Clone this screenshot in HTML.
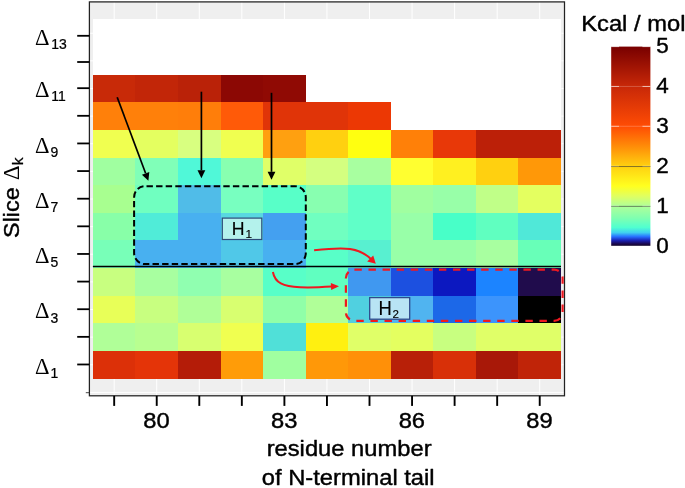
<!DOCTYPE html>
<html><head><meta charset="utf-8"><title>Free energy heatmap</title>
<style>
html,body{margin:0;padding:0;background:#fff;}
body{width:685px;height:488px;overflow:hidden;}
svg{display:block;}
text{font-family:"Liberation Sans",Arial,Helvetica,sans-serif;fill:#000;stroke:#000;stroke-width:0.4px;stroke-linejoin:round;}
.d{font-family:"Liberation Serif","DejaVu Serif",serif;stroke:none;}
.s{stroke-width:0.25px;}
.h{stroke-width:0.15px;}
</style></head><body>
<svg width="685" height="488" viewBox="0 0 685 488">
<defs>
<linearGradient id="cb" x1="0" y1="1" x2="0" y2="0">
<stop offset="0" stop-color="#120528"/>
<stop offset="0.01" stop-color="#1a0850"/>
<stop offset="0.026" stop-color="#1a20b0"/>
<stop offset="0.046" stop-color="#2870ff"/>
<stop offset="0.066" stop-color="#40d0f0"/>
<stop offset="0.092" stop-color="#50ffd0"/>
<stop offset="0.14" stop-color="#80ffb0"/>
<stop offset="0.2" stop-color="#b0ff98"/>
<stop offset="0.25" stop-color="#e0ff60"/>
<stop offset="0.3" stop-color="#ffff20"/>
<stop offset="0.4" stop-color="#ffd010"/>
<stop offset="0.5" stop-color="#ff8c08"/>
<stop offset="0.6" stop-color="#ff4c04"/>
<stop offset="0.8" stop-color="#c82808"/>
<stop offset="1" stop-color="#780000"/>
</linearGradient>
</defs>
<rect x="0" y="0" width="685" height="488" fill="#fff"/>
<rect x="89.4" y="1.9" width="475.1" height="393.9" fill="#efefef"/>
<line x1="114.18" y1="2" x2="114.18" y2="395.8" stroke="#fff" stroke-width="1"/>
<line x1="156.73" y1="2" x2="156.73" y2="395.8" stroke="#fff" stroke-width="1"/>
<line x1="199.29" y1="2" x2="199.29" y2="395.8" stroke="#fff" stroke-width="1"/>
<line x1="241.84" y1="2" x2="241.84" y2="395.8" stroke="#fff" stroke-width="1"/>
<line x1="284.40" y1="2" x2="284.40" y2="395.8" stroke="#fff" stroke-width="1"/>
<line x1="326.95" y1="2" x2="326.95" y2="395.8" stroke="#fff" stroke-width="1"/>
<line x1="369.50" y1="2" x2="369.50" y2="395.8" stroke="#fff" stroke-width="1"/>
<line x1="412.06" y1="2" x2="412.06" y2="395.8" stroke="#fff" stroke-width="1"/>
<line x1="454.61" y1="2" x2="454.61" y2="395.8" stroke="#fff" stroke-width="1"/>
<line x1="497.17" y1="2" x2="497.17" y2="395.8" stroke="#fff" stroke-width="1"/>
<line x1="539.72" y1="2" x2="539.72" y2="395.8" stroke="#fff" stroke-width="1"/>
<line x1="90" y1="392.42" x2="564.5" y2="392.42" stroke="#fff" stroke-width="1"/>
<line x1="90" y1="364.78" x2="564.5" y2="364.78" stroke="#fff" stroke-width="1"/>
<line x1="90" y1="337.15" x2="564.5" y2="337.15" stroke="#fff" stroke-width="1"/>
<line x1="90" y1="309.52" x2="564.5" y2="309.52" stroke="#fff" stroke-width="1"/>
<line x1="90" y1="281.89" x2="564.5" y2="281.89" stroke="#fff" stroke-width="1"/>
<line x1="90" y1="254.26" x2="564.5" y2="254.26" stroke="#fff" stroke-width="1"/>
<line x1="90" y1="226.63" x2="564.5" y2="226.63" stroke="#fff" stroke-width="1"/>
<line x1="90" y1="199.00" x2="564.5" y2="199.00" stroke="#fff" stroke-width="1"/>
<line x1="90" y1="171.37" x2="564.5" y2="171.37" stroke="#fff" stroke-width="1"/>
<line x1="90" y1="143.74" x2="564.5" y2="143.74" stroke="#fff" stroke-width="1"/>
<line x1="90" y1="116.11" x2="564.5" y2="116.11" stroke="#fff" stroke-width="1"/>
<line x1="90" y1="88.48" x2="564.5" y2="88.48" stroke="#fff" stroke-width="1"/>
<line x1="90" y1="60.85" x2="564.5" y2="60.85" stroke="#fff" stroke-width="1"/>
<line x1="90" y1="33.22" x2="564.5" y2="33.22" stroke="#fff" stroke-width="1"/>
<g shape-rendering="crispEdges">
<rect x="92.90" y="19.40" width="42.85" height="27.93" fill="#ffffff"/>
<rect x="135.45" y="19.40" width="42.85" height="27.93" fill="#ffffff"/>
<rect x="178.01" y="19.40" width="42.85" height="27.93" fill="#ffffff"/>
<rect x="220.56" y="19.40" width="42.85" height="27.93" fill="#ffffff"/>
<rect x="263.12" y="19.40" width="42.85" height="27.93" fill="#ffffff"/>
<rect x="305.67" y="19.40" width="42.85" height="27.93" fill="#ffffff"/>
<rect x="348.23" y="19.40" width="42.85" height="27.93" fill="#ffffff"/>
<rect x="390.78" y="19.40" width="42.85" height="27.93" fill="#ffffff"/>
<rect x="433.34" y="19.40" width="42.85" height="27.93" fill="#ffffff"/>
<rect x="475.89" y="19.40" width="42.85" height="27.93" fill="#ffffff"/>
<rect x="518.45" y="19.40" width="42.85" height="27.93" fill="#ffffff"/>
<rect x="92.90" y="47.03" width="42.85" height="27.93" fill="#ffffff"/>
<rect x="135.45" y="47.03" width="42.85" height="27.93" fill="#ffffff"/>
<rect x="178.01" y="47.03" width="42.85" height="27.93" fill="#ffffff"/>
<rect x="220.56" y="47.03" width="42.85" height="27.93" fill="#ffffff"/>
<rect x="263.12" y="47.03" width="42.85" height="27.93" fill="#ffffff"/>
<rect x="305.67" y="47.03" width="42.85" height="27.93" fill="#ffffff"/>
<rect x="348.23" y="47.03" width="42.85" height="27.93" fill="#ffffff"/>
<rect x="390.78" y="47.03" width="42.85" height="27.93" fill="#ffffff"/>
<rect x="433.34" y="47.03" width="42.85" height="27.93" fill="#ffffff"/>
<rect x="475.89" y="47.03" width="42.85" height="27.93" fill="#ffffff"/>
<rect x="518.45" y="47.03" width="42.85" height="27.93" fill="#ffffff"/>
<rect x="92.90" y="74.66" width="42.85" height="27.93" fill="#c82a08"/>
<rect x="135.45" y="74.66" width="42.85" height="27.93" fill="#c22608"/>
<rect x="178.01" y="74.66" width="42.85" height="27.93" fill="#ba2208"/>
<rect x="220.56" y="74.66" width="42.85" height="27.93" fill="#8c0804"/>
<rect x="263.12" y="74.66" width="42.85" height="27.93" fill="#900a04"/>
<rect x="305.67" y="74.66" width="42.85" height="27.93" fill="#ffffff"/>
<rect x="348.23" y="74.66" width="42.85" height="27.93" fill="#ffffff"/>
<rect x="390.78" y="74.66" width="42.85" height="27.93" fill="#ffffff"/>
<rect x="433.34" y="74.66" width="42.85" height="27.93" fill="#ffffff"/>
<rect x="475.89" y="74.66" width="42.85" height="27.93" fill="#ffffff"/>
<rect x="518.45" y="74.66" width="42.85" height="27.93" fill="#ffffff"/>
<rect x="92.90" y="102.29" width="42.85" height="27.93" fill="#ff800a"/>
<rect x="135.45" y="102.29" width="42.85" height="27.93" fill="#ff800a"/>
<rect x="178.01" y="102.29" width="42.85" height="27.93" fill="#ff7e0a"/>
<rect x="220.56" y="102.29" width="42.85" height="27.93" fill="#ff5a08"/>
<rect x="263.12" y="102.29" width="42.85" height="27.93" fill="#e03408"/>
<rect x="305.67" y="102.29" width="42.85" height="27.93" fill="#e03408"/>
<rect x="348.23" y="102.29" width="42.85" height="27.93" fill="#ec3804"/>
<rect x="390.78" y="102.29" width="42.85" height="27.93" fill="#ffffff"/>
<rect x="433.34" y="102.29" width="42.85" height="27.93" fill="#ffffff"/>
<rect x="475.89" y="102.29" width="42.85" height="27.93" fill="#ffffff"/>
<rect x="518.45" y="102.29" width="42.85" height="27.93" fill="#ffffff"/>
<rect x="92.90" y="129.92" width="42.85" height="27.93" fill="#f0ff50"/>
<rect x="135.45" y="129.92" width="42.85" height="27.93" fill="#e4ff60"/>
<rect x="178.01" y="129.92" width="42.85" height="27.93" fill="#d8ff80"/>
<rect x="220.56" y="129.92" width="42.85" height="27.93" fill="#f0ff50"/>
<rect x="263.12" y="129.92" width="42.85" height="27.93" fill="#ffa010"/>
<rect x="305.67" y="129.92" width="42.85" height="27.93" fill="#ffd010"/>
<rect x="348.23" y="129.92" width="42.85" height="27.93" fill="#ffff10"/>
<rect x="390.78" y="129.92" width="42.85" height="27.93" fill="#ff8008"/>
<rect x="433.34" y="129.92" width="42.85" height="27.93" fill="#e83808"/>
<rect x="475.89" y="129.92" width="42.85" height="27.93" fill="#bc2008"/>
<rect x="518.45" y="129.92" width="42.85" height="27.93" fill="#bc2008"/>
<rect x="92.90" y="157.55" width="42.85" height="27.93" fill="#a0ffa0"/>
<rect x="135.45" y="157.55" width="42.85" height="27.93" fill="#80ffb8"/>
<rect x="178.01" y="157.55" width="42.85" height="27.93" fill="#50f8d8"/>
<rect x="220.56" y="157.55" width="42.85" height="27.93" fill="#88ffb0"/>
<rect x="263.12" y="157.55" width="42.85" height="27.93" fill="#e0ff68"/>
<rect x="305.67" y="157.55" width="42.85" height="27.93" fill="#d4ff80"/>
<rect x="348.23" y="157.55" width="42.85" height="27.93" fill="#a8ffa0"/>
<rect x="390.78" y="157.55" width="42.85" height="27.93" fill="#ffff30"/>
<rect x="433.34" y="157.55" width="42.85" height="27.93" fill="#fff020"/>
<rect x="475.89" y="157.55" width="42.85" height="27.93" fill="#ffd010"/>
<rect x="518.45" y="157.55" width="42.85" height="27.93" fill="#ff9808"/>
<rect x="92.90" y="185.18" width="42.85" height="27.93" fill="#a8ff90"/>
<rect x="135.45" y="185.18" width="42.85" height="27.93" fill="#70ffc0"/>
<rect x="178.01" y="185.18" width="42.85" height="27.93" fill="#50bce8"/>
<rect x="220.56" y="185.18" width="42.85" height="27.93" fill="#78ffc0"/>
<rect x="263.12" y="185.18" width="42.85" height="27.93" fill="#58ffc8"/>
<rect x="305.67" y="185.18" width="42.85" height="27.93" fill="#88ffb0"/>
<rect x="348.23" y="185.18" width="42.85" height="27.93" fill="#60ffc8"/>
<rect x="390.78" y="185.18" width="42.85" height="27.93" fill="#a0ffa0"/>
<rect x="433.34" y="185.18" width="42.85" height="27.93" fill="#98ffa8"/>
<rect x="475.89" y="185.18" width="42.85" height="27.93" fill="#c0ff88"/>
<rect x="518.45" y="185.18" width="42.85" height="27.93" fill="#e4ff60"/>
<rect x="92.90" y="212.82" width="42.85" height="27.93" fill="#88ffa8"/>
<rect x="135.45" y="212.82" width="42.85" height="27.93" fill="#50ecd8"/>
<rect x="178.01" y="212.82" width="42.85" height="27.93" fill="#48b0f0"/>
<rect x="220.56" y="212.82" width="42.85" height="27.93" fill="#58d8e0"/>
<rect x="263.12" y="212.82" width="42.85" height="27.93" fill="#44a0f0"/>
<rect x="305.67" y="212.82" width="42.85" height="27.93" fill="#70ffc0"/>
<rect x="348.23" y="212.82" width="42.85" height="27.93" fill="#60ffc8"/>
<rect x="390.78" y="212.82" width="42.85" height="27.93" fill="#98ffa8"/>
<rect x="433.34" y="212.82" width="42.85" height="27.93" fill="#48ffc8"/>
<rect x="475.89" y="212.82" width="42.85" height="27.93" fill="#60ffc0"/>
<rect x="518.45" y="212.82" width="42.85" height="27.93" fill="#50e8d8"/>
<rect x="92.90" y="240.45" width="42.85" height="27.93" fill="#78ffb8"/>
<rect x="135.45" y="240.45" width="42.85" height="27.93" fill="#48b0f0"/>
<rect x="178.01" y="240.45" width="42.85" height="27.93" fill="#48b0f0"/>
<rect x="220.56" y="240.45" width="42.85" height="27.93" fill="#50c8e8"/>
<rect x="263.12" y="240.45" width="42.85" height="27.93" fill="#48b0f0"/>
<rect x="305.67" y="240.45" width="42.85" height="27.93" fill="#58ffc8"/>
<rect x="348.23" y="240.45" width="42.85" height="27.93" fill="#58f0d0"/>
<rect x="390.78" y="240.45" width="42.85" height="27.93" fill="#98ffa8"/>
<rect x="433.34" y="240.45" width="42.85" height="27.93" fill="#98ffa8"/>
<rect x="475.89" y="240.45" width="42.85" height="27.93" fill="#a8ffa0"/>
<rect x="518.45" y="240.45" width="42.85" height="27.93" fill="#68ffb8"/>
<rect x="92.90" y="268.08" width="42.85" height="27.93" fill="#c8ff80"/>
<rect x="135.45" y="268.08" width="42.85" height="27.93" fill="#a8ffa0"/>
<rect x="178.01" y="268.08" width="42.85" height="27.93" fill="#90ffb0"/>
<rect x="220.56" y="268.08" width="42.85" height="27.93" fill="#a8ffa0"/>
<rect x="263.12" y="268.08" width="42.85" height="27.93" fill="#58ffc8"/>
<rect x="305.67" y="268.08" width="42.85" height="27.93" fill="#60ffc0"/>
<rect x="348.23" y="268.08" width="42.85" height="27.93" fill="#4098f0"/>
<rect x="390.78" y="268.08" width="42.85" height="27.93" fill="#1c50e0"/>
<rect x="433.34" y="268.08" width="42.85" height="27.93" fill="#0c18c0"/>
<rect x="475.89" y="268.08" width="42.85" height="27.93" fill="#1c84ff"/>
<rect x="518.45" y="268.08" width="42.85" height="27.93" fill="#200c4c"/>
<rect x="92.90" y="295.71" width="42.85" height="27.93" fill="#e8ff58"/>
<rect x="135.45" y="295.71" width="42.85" height="27.93" fill="#c8ff80"/>
<rect x="178.01" y="295.71" width="42.85" height="27.93" fill="#b0ff98"/>
<rect x="220.56" y="295.71" width="42.85" height="27.93" fill="#d8ff70"/>
<rect x="263.12" y="295.71" width="42.85" height="27.93" fill="#90ffa8"/>
<rect x="305.67" y="295.71" width="42.85" height="27.93" fill="#b0ff98"/>
<rect x="348.23" y="295.71" width="42.85" height="27.93" fill="#50d0e0"/>
<rect x="390.78" y="295.71" width="42.85" height="27.93" fill="#50b4f0"/>
<rect x="433.34" y="295.71" width="42.85" height="27.93" fill="#1c68e8"/>
<rect x="475.89" y="295.71" width="42.85" height="27.93" fill="#3c94fc"/>
<rect x="518.45" y="295.71" width="42.85" height="27.93" fill="#000000"/>
<rect x="92.90" y="323.34" width="42.85" height="27.93" fill="#b0ff98"/>
<rect x="135.45" y="323.34" width="42.85" height="27.93" fill="#b8ff90"/>
<rect x="178.01" y="323.34" width="42.85" height="27.93" fill="#d8ff70"/>
<rect x="220.56" y="323.34" width="42.85" height="27.93" fill="#f0ff50"/>
<rect x="263.12" y="323.34" width="42.85" height="27.93" fill="#50e0d8"/>
<rect x="305.67" y="323.34" width="42.85" height="27.93" fill="#fff010"/>
<rect x="348.23" y="323.34" width="42.85" height="27.93" fill="#e0ff68"/>
<rect x="390.78" y="323.34" width="42.85" height="27.93" fill="#e4ff60"/>
<rect x="433.34" y="323.34" width="42.85" height="27.93" fill="#c8ff80"/>
<rect x="475.89" y="323.34" width="42.85" height="27.93" fill="#e0ff68"/>
<rect x="518.45" y="323.34" width="42.85" height="27.93" fill="#e0ff68"/>
<rect x="92.90" y="350.97" width="42.85" height="27.93" fill="#dc3008"/>
<rect x="135.45" y="350.97" width="42.85" height="27.93" fill="#e43408"/>
<rect x="178.01" y="350.97" width="42.85" height="27.93" fill="#b41c08"/>
<rect x="220.56" y="350.97" width="42.85" height="27.93" fill="#ff9c08"/>
<rect x="263.12" y="350.97" width="42.85" height="27.93" fill="#a0ffa0"/>
<rect x="305.67" y="350.97" width="42.85" height="27.93" fill="#ff9808"/>
<rect x="348.23" y="350.97" width="42.85" height="27.93" fill="#ff9008"/>
<rect x="390.78" y="350.97" width="42.85" height="27.93" fill="#b82008"/>
<rect x="433.34" y="350.97" width="42.85" height="27.93" fill="#d83008"/>
<rect x="475.89" y="350.97" width="42.85" height="27.93" fill="#a81808"/>
<rect x="518.45" y="350.97" width="42.85" height="27.93" fill="#c02408"/>
</g>
<rect x="561.00" y="19.4" width="0.4" height="359.20" fill="#efefef"/>
<rect x="89.4" y="1.9" width="475.1" height="393.9" fill="none" stroke="#222" stroke-width="1.25"/>
<line x1="77.2" y1="364.48" x2="89.4" y2="364.48" stroke="#000" stroke-width="1.8"/>
<text transform="translate(34.9,373.68) scale(0.94,1)" font-size="24.0" class="d">Δ</text>
<text transform="translate(50.4,377.78) scale(0.97,1)" font-size="14.4" class="s">1</text>
<line x1="77.2" y1="336.85" x2="89.4" y2="336.85" stroke="#000" stroke-width="1.8"/>
<line x1="77.2" y1="309.22" x2="89.4" y2="309.22" stroke="#000" stroke-width="1.8"/>
<text transform="translate(34.9,318.42) scale(0.94,1)" font-size="24.0" class="d">Δ</text>
<text transform="translate(50.4,322.52) scale(0.97,1)" font-size="14.4" class="s">3</text>
<line x1="77.2" y1="281.59" x2="89.4" y2="281.59" stroke="#000" stroke-width="1.8"/>
<line x1="77.2" y1="253.96" x2="89.4" y2="253.96" stroke="#000" stroke-width="1.8"/>
<text transform="translate(34.9,263.16) scale(0.94,1)" font-size="24.0" class="d">Δ</text>
<text transform="translate(50.4,267.26) scale(0.97,1)" font-size="14.4" class="s">5</text>
<line x1="77.2" y1="226.33" x2="89.4" y2="226.33" stroke="#000" stroke-width="1.8"/>
<line x1="77.2" y1="198.70" x2="89.4" y2="198.70" stroke="#000" stroke-width="1.8"/>
<text transform="translate(34.9,207.90) scale(0.94,1)" font-size="24.0" class="d">Δ</text>
<text transform="translate(50.4,212.00) scale(0.97,1)" font-size="14.4" class="s">7</text>
<line x1="77.2" y1="171.07" x2="89.4" y2="171.07" stroke="#000" stroke-width="1.8"/>
<line x1="77.2" y1="143.44" x2="89.4" y2="143.44" stroke="#000" stroke-width="1.8"/>
<text transform="translate(34.9,152.64) scale(0.94,1)" font-size="24.0" class="d">Δ</text>
<text transform="translate(50.4,156.74) scale(0.97,1)" font-size="14.4" class="s">9</text>
<line x1="77.2" y1="115.81" x2="89.4" y2="115.81" stroke="#000" stroke-width="1.8"/>
<line x1="77.2" y1="88.18" x2="89.4" y2="88.18" stroke="#000" stroke-width="1.8"/>
<text transform="translate(34.9,97.38) scale(0.94,1)" font-size="24.0" class="d">Δ</text>
<text transform="translate(51.3,101.48) scale(0.97,1)" font-size="14.4" class="s">11</text>
<line x1="77.2" y1="62.00" x2="89.4" y2="62.00" stroke="#000" stroke-width="1.8"/>
<line x1="77.2" y1="35.80" x2="89.4" y2="35.80" stroke="#000" stroke-width="1.8"/>
<text transform="translate(34.9,44.60) scale(0.94,1)" font-size="24.0" class="d">Δ</text>
<text transform="translate(51.3,48.70) scale(0.97,1)" font-size="14.4" class="s">13</text>
<line x1="85.8" y1="392.7" x2="89.4" y2="392.7" stroke="#333" stroke-width="0.9"/>
<line x1="114.18" y1="395.8" x2="114.18" y2="405.9" stroke="#000" stroke-width="1.9"/>
<line x1="156.73" y1="395.8" x2="156.73" y2="405.9" stroke="#000" stroke-width="1.9"/>
<text transform="translate(156.53,428.00) scale(1.075,1)" font-size="22.1" text-anchor="middle">80</text>
<line x1="199.29" y1="395.8" x2="199.29" y2="405.9" stroke="#000" stroke-width="1.9"/>
<line x1="241.84" y1="395.8" x2="241.84" y2="405.9" stroke="#000" stroke-width="1.9"/>
<line x1="284.40" y1="395.8" x2="284.40" y2="405.9" stroke="#000" stroke-width="1.9"/>
<text transform="translate(284.20,428.00) scale(1.075,1)" font-size="22.1" text-anchor="middle">83</text>
<line x1="326.95" y1="395.8" x2="326.95" y2="405.9" stroke="#000" stroke-width="1.9"/>
<line x1="369.50" y1="395.8" x2="369.50" y2="405.9" stroke="#000" stroke-width="1.9"/>
<line x1="412.06" y1="395.8" x2="412.06" y2="405.9" stroke="#000" stroke-width="1.9"/>
<text transform="translate(411.86,428.00) scale(1.075,1)" font-size="22.1" text-anchor="middle">86</text>
<line x1="454.61" y1="395.8" x2="454.61" y2="405.9" stroke="#000" stroke-width="1.9"/>
<line x1="497.17" y1="395.8" x2="497.17" y2="405.9" stroke="#000" stroke-width="1.9"/>
<line x1="539.72" y1="395.8" x2="539.72" y2="405.9" stroke="#000" stroke-width="1.9"/>
<text transform="translate(539.52,428.00) scale(1.075,1)" font-size="22.1" text-anchor="middle">89</text>
<text transform="translate(349.10,456.20) scale(1.115,1)" font-size="21.3" text-anchor="middle">residue number</text>
<text transform="translate(348.20,485.10) scale(1.115,1)" font-size="21.3" text-anchor="middle">of N-terminal tail</text>
<g transform="translate(18.8,237.9) rotate(-90)"><text transform="scale(1.05,1)" font-size="22.2">Slice</text><text transform="translate(57.8,0.1) scale(0.98,1)" font-size="23" class="d">Δ</text><text transform="translate(72.6,4.3) scale(1.04,1)" font-size="15.1" class="s">k</text></g>
<line x1="92.9" y1="266.6" x2="561" y2="266.6" stroke="#000" stroke-width="1.5"/>
<rect x="134.1" y="186.2" width="171.7" height="77.9" rx="11" ry="11" fill="none" stroke="#000" stroke-width="2" stroke-dasharray="6.4 3.2" stroke-dashoffset="-1.4"/>
<rect x="345.9" y="269.6" width="216.7" height="51.2" rx="8.5" ry="8.5" fill="none" stroke="#ee1820" stroke-width="2.2" stroke-dasharray="7.4 6.687"/>
<rect x="222.3" y="218.1" width="39.5" height="21.4" fill="#b4f2ec" stroke="#2f4a78" stroke-width="1.2"/>
<text transform="translate(231.7,234.5) scale(0.95,1)" font-size="18.6" class="h">H</text>
<text x="245.4" y="238.0" font-size="11.8" class="h">1</text>
<rect x="369.7" y="297.6" width="40" height="21.6" fill="#b8e4f4" stroke="#2f4a8c" stroke-width="1.3"/>
<text transform="translate(378.5,314.8) scale(0.93,1)" font-size="19.8" class="h">H</text>
<text x="392.5" y="317.7" font-size="11.6" class="h">2</text>
<line x1="117.2" y1="97.2" x2="145.6" y2="173.3" stroke="#000" stroke-width="1.7"/><polygon points="148.4,180.8 141.9,174.7 149.3,171.9" fill="#000"/>
<line x1="201.4" y1="91.7" x2="201.4" y2="170.3" stroke="#000" stroke-width="1.7"/><polygon points="201.4,178.3 197.5,170.3 205.3,170.3" fill="#000"/>
<line x1="271.5" y1="92.8" x2="271.5" y2="171.8" stroke="#000" stroke-width="1.7"/><polygon points="271.5,179.8 267.6,171.8 275.4,171.8" fill="#000"/>
<path d="M314.1,250.2 C330,248.5 340,247.5 350,249 C360,250.5 367,255 371.5,259.5" fill="none" stroke="#ee1820" stroke-width="2"/>
<polygon points="375.8,263.8 367.2,261.6 373.2,255.4" fill="#ee1820"/>
<path d="M272.9,272 C275,283 283,286.5 300,287.3 C312,287.8 322,287.2 332,286.6" fill="none" stroke="#ee1820" stroke-width="2"/>
<polygon points="339,286.2 331.2,290 330.8,283" fill="#ee1820"/>
<text transform="translate(581.20,30.90) scale(1.115,1)" font-size="21.3" text-anchor="start">Kcal / mol</text>
<rect x="611.2" y="46.6" width="39.2" height="199.2" fill="url(#cb)"/>
<text transform="translate(656.30,253.40) scale(1.045,1)" font-size="21.5" text-anchor="start">0</text>
<line x1="611.2" y1="206.36" x2="650.4" y2="206.36" stroke="#333" stroke-opacity="0.85" stroke-width="0.7"/>
<line x1="611.2" y1="205.96" x2="619" y2="205.96" stroke="#fff" stroke-opacity="0.35" stroke-width="0.9"/>
<line x1="642.4" y1="205.96" x2="650.4" y2="205.96" stroke="#fff" stroke-opacity="0.35" stroke-width="0.9"/>
<text transform="translate(656.30,213.35) scale(1.045,1)" font-size="21.5" text-anchor="start">1</text>
<line x1="611.2" y1="166.52" x2="650.4" y2="166.52" stroke="#333" stroke-opacity="0.85" stroke-width="0.7"/>
<line x1="611.2" y1="166.12" x2="619" y2="166.12" stroke="#fff" stroke-opacity="0.35" stroke-width="0.9"/>
<line x1="642.4" y1="166.12" x2="650.4" y2="166.12" stroke="#fff" stroke-opacity="0.35" stroke-width="0.9"/>
<text transform="translate(656.30,173.30) scale(1.045,1)" font-size="21.5" text-anchor="start">2</text>
<line x1="611.2" y1="126.28" x2="619" y2="126.28" stroke="#fff" stroke-opacity="0.8" stroke-width="0.9"/>
<line x1="642.4" y1="126.28" x2="650.4" y2="126.28" stroke="#fff" stroke-opacity="0.8" stroke-width="0.9"/>
<line x1="619" y1="126.28" x2="642.4" y2="126.28" stroke="#fff" stroke-opacity="0.25" stroke-width="0.9"/>
<text transform="translate(656.30,133.25) scale(1.045,1)" font-size="21.5" text-anchor="start">3</text>
<line x1="611.2" y1="86.44" x2="619" y2="86.44" stroke="#fff" stroke-opacity="0.8" stroke-width="0.9"/>
<line x1="642.4" y1="86.44" x2="650.4" y2="86.44" stroke="#fff" stroke-opacity="0.8" stroke-width="0.9"/>
<line x1="619" y1="86.44" x2="642.4" y2="86.44" stroke="#fff" stroke-opacity="0.25" stroke-width="0.9"/>
<text transform="translate(656.30,93.20) scale(1.045,1)" font-size="21.5" text-anchor="start">4</text>
<line x1="611.2" y1="46.6" x2="619" y2="46.6" stroke="#fff" stroke-opacity="0.8" stroke-width="0.9"/>
<line x1="642.4" y1="46.6" x2="650.4" y2="46.6" stroke="#fff" stroke-opacity="0.8" stroke-width="0.9"/>
<text transform="translate(656.30,53.15) scale(1.045,1)" font-size="21.5" text-anchor="start">5</text>
</svg></body></html>
